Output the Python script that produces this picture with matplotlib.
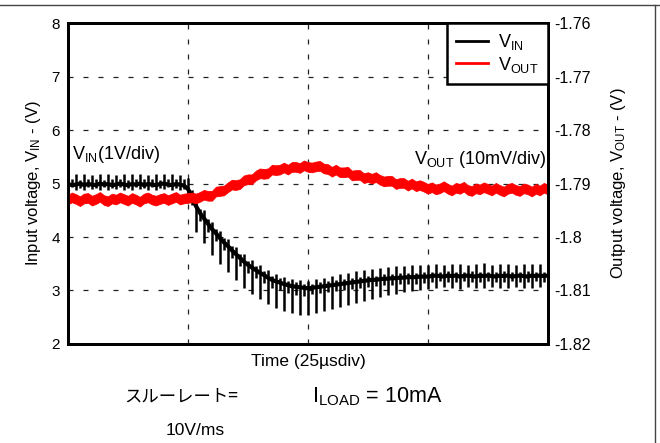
import numpy as np
import matplotlib.pyplot as plt
from matplotlib.lines import Line2D

plt.rcParams['font.family'] = ['Liberation Sans', 'Noto Sans CJK JP']
plt.rcParams['mathtext.fontset'] = 'custom'
plt.rcParams['mathtext.rm'] = 'Liberation Sans'
plt.rcParams['mathtext.it'] = 'Liberation Sans'
plt.rcParams['mathtext.default'] = 'regular'

# time in divisions (25us/div), sampled every 1/30 div
t = np.linspace(0, 4, 121)

# input voltage trace (V): middle of the band, spike tops, spike bottoms
vin_mid = [4.99, 4.97, 4.98, 5.00, 4.97, 4.99, 4.98, 4.97, 5.00, 4.98,
           4.99, 4.97, 4.98, 5.00, 4.98, 4.97, 4.99, 4.98, 5.00, 4.97,
           4.99, 4.98, 4.97, 4.99, 5.00, 4.98, 4.97, 4.99, 4.98, 4.96,
           4.90, 4.75, 4.58, 4.45, 4.35, 4.25, 4.15, 4.07, 3.98, 3.90,
           3.83, 3.75, 3.68, 3.61, 3.54, 3.48, 3.43, 3.38, 3.33, 3.29,
           3.24, 3.20, 3.17, 3.15, 3.12, 3.10, 3.08, 3.07, 3.06, 3.05,
           3.04, 3.05, 3.06, 3.07, 3.08, 3.09, 3.10, 3.11, 3.12, 3.13,
           3.14, 3.15, 3.16, 3.17, 3.18, 3.19, 3.20, 3.20, 3.21, 3.22,
           3.22, 3.23, 3.23, 3.24, 3.24, 3.25, 3.25, 3.25, 3.26, 3.26,
           3.26, 3.27, 3.28, 3.27, 3.26, 3.28, 3.27, 3.28, 3.26, 3.27,
           3.28, 3.27, 3.26, 3.28, 3.27, 3.28, 3.27, 3.26, 3.28, 3.27,
           3.28, 3.26, 3.27, 3.28, 3.27, 3.26, 3.28, 3.27, 3.28, 3.27,
           3.28]
vin_top = [5.38, 5.08, 5.18, 5.07, 5.17, 5.09, 5.16, 5.08, 5.18, 5.07,
           5.17, 5.08, 5.16, 5.09, 5.18, 5.07, 5.17, 5.08, 5.18, 5.09,
           5.16, 5.08, 5.17, 5.07, 5.18, 5.08, 5.17, 5.09, 5.16, 5.08,
           5.10, 4.88, 4.72, 4.53, 4.50, 4.33, 4.28, 4.15, 4.12, 3.98,
           3.97, 3.83, 3.82, 3.69, 3.68, 3.56, 3.57, 3.46, 3.47, 3.37,
           3.38, 3.28, 3.31, 3.23, 3.26, 3.18, 3.22, 3.15, 3.20, 3.13,
           3.18, 3.13, 3.21, 3.15, 3.24, 3.17, 3.27, 3.19, 3.30, 3.21,
           3.33, 3.23, 3.36, 3.25, 3.38, 3.27, 3.40, 3.28, 3.42, 3.30,
           3.43, 3.31, 3.45, 3.32, 3.46, 3.33, 3.47, 3.33, 3.48, 3.34,
           3.48, 3.35, 3.50, 3.34, 3.48, 3.36, 3.49, 3.35, 3.50, 3.34,
           3.48, 3.36, 3.49, 3.35, 3.51, 3.34, 3.48, 3.35, 3.49, 3.36,
           3.50, 3.34, 3.48, 3.35, 3.49, 3.36, 3.50, 3.34, 3.49, 3.35,
           3.48]
vin_bot = [4.88, 4.93, 4.87, 4.92, 4.88, 4.93, 4.89, 4.92, 4.87, 4.93,
           4.88, 4.92, 4.89, 4.93, 4.87, 4.92, 4.88, 4.93, 4.89, 4.92,
           4.88, 4.93, 4.87, 4.92, 4.89, 4.93, 4.88, 4.92, 4.87, 4.90,
           4.70, 4.60, 4.10, 4.30, 3.88, 4.10, 3.66, 3.92, 3.50, 3.75,
           3.35, 3.60, 3.20, 3.46, 3.05, 3.33, 2.93, 3.23, 2.84, 3.14,
           2.75, 3.05, 2.68, 3.00, 2.62, 2.95, 2.58, 2.92, 2.55, 2.90,
           2.54, 2.93, 2.58, 2.95, 2.62, 2.97, 2.65, 2.99, 2.69, 3.01,
           2.73, 3.03, 2.77, 3.05, 2.81, 3.07, 2.85, 3.08, 2.88, 3.10,
           2.91, 3.11, 2.94, 3.12, 2.97, 3.13, 2.99, 3.13, 3.01, 3.14,
           3.03, 3.16, 3.04, 3.17, 3.06, 3.15, 3.05, 3.16, 3.03, 3.17,
           3.06, 3.15, 3.05, 3.16, 3.04, 3.17, 3.06, 3.15, 3.05, 3.16,
           3.04, 3.17, 3.06, 3.15, 3.05, 3.16, 3.04, 3.17, 3.06, 3.15,
           3.05]

# output voltage trace (V)
vout = [-1.7930, -1.7926, -1.7929, -1.7933, -1.7928, -1.7927, -1.7932, -1.7929, -1.7925, -1.7931,
        -1.7933, -1.7928, -1.7930, -1.7926, -1.7929, -1.7932, -1.7927, -1.7930, -1.7934, -1.7928,
        -1.7926, -1.7930, -1.7932, -1.7929, -1.7927, -1.7931, -1.7928, -1.7925, -1.7930, -1.7928,
        -1.7927, -1.7926, -1.7928, -1.7925, -1.7921, -1.7923, -1.7923, -1.7915, -1.7914, -1.7913,
        -1.7907, -1.7902, -1.7903, -1.7901, -1.7894, -1.7892, -1.7892, -1.7885, -1.7881, -1.7882,
        -1.7881, -1.7874, -1.7875, -1.7874, -1.7870, -1.7874, -1.7869, -1.7869, -1.7871, -1.7866,
        -1.7869, -1.7870, -1.7868, -1.7867, -1.7872, -1.7873, -1.7878, -1.7874, -1.7879, -1.7879,
        -1.7878, -1.7885, -1.7884, -1.7884, -1.7890, -1.7888, -1.7891, -1.7888, -1.7893, -1.7896,
        -1.7895, -1.7895, -1.7901, -1.7899, -1.7899, -1.7904, -1.7900, -1.7905, -1.7903, -1.7906,
        -1.7910, -1.7907, -1.7911, -1.7909, -1.7905, -1.7910, -1.7913, -1.7908, -1.7910, -1.7906,
        -1.7912, -1.7914, -1.7909, -1.7911, -1.7907, -1.7910, -1.7913, -1.7908, -1.7912, -1.7915,
        -1.7910, -1.7908, -1.7912, -1.7914, -1.7909, -1.7911, -1.7915, -1.7910, -1.7913, -1.7908,
        -1.7911]
vout_band = 0.0009  # half thickness of the red trace (V)

right_ticks = [-1.82, -1.81, -1.80, -1.79, -1.78, -1.77, -1.76]
right_labels = ['-1.82', '-1.81', '-1.8', '-1.79', '-1.78', '-1.77', '-1.76']

fig = plt.figure(figsize=(6.6, 4.43), dpi=100)
ax = fig.add_axes([0.103, 0.2235, 0.727, 0.7245])
ax2 = ax.twinx()

ax.plot(t, vin_mid, color='black', lw=3)
ax.vlines(t, vin_bot, vin_top, color='black', lw=1.8)
vo = np.array(vout)
ax2.fill_between(t, vo - vout_band, vo + vout_band, color='red', lw=0.6, edgecolor='red')

ax.set_xlim(0, 4)
ax.set_ylim(2, 8)
ax2.set_ylim(-1.82, -1.76)
ax.set_xticks([1, 2, 3])
ax.set_xticklabels([])
ax.set_yticks(range(2, 9))
ax2.set_yticks(right_ticks)
ax2.set_yticklabels(right_labels)
ax.tick_params(axis='x', length=0)
ax.tick_params(axis='y', length=0, labelsize=11, pad=6)
ax2.tick_params(axis='y', length=0, labelsize=11.5, pad=5)
ax.grid(True, color='#222222', linestyle=(0, (4, 8)), lw=0.9)
for a in (ax, ax2):
    for s in a.spines.values():
        s.set_linewidth(2)

ax.set_xlabel('Time (25\u00b5sdiv)', fontsize=12.5, labelpad=4)
ax.set_ylabel('Input voltage, V$_{IN}$ - (V)', fontsize=12, labelpad=6)
ax2.set_ylabel('Output voltage, V$_{OUT}$ - (V)', fontsize=12, labelpad=13)

ax.text(0.03, 5.55, 'V$_{IN}$(1V/div)', fontsize=13, ha='left', va='center')
ax.text(3.99, 5.45, 'V$_{OUT}$ (10mV/div)', fontsize=13, ha='right', va='center')

handles = [Line2D([], [], color='black', lw=2), Line2D([], [], color='red', lw=2)]
leg = ax2.legend(handles, ['V$_{IN}$', 'V$_{OUT}$'], loc='upper right', fontsize=13,
                 borderaxespad=0, fancybox=False, framealpha=1, edgecolor='black',
                 handlelength=1.8, handletextpad=0.55, labelspacing=0.15, borderpad=0.5)
leg.get_frame().set_linewidth(1.8)

fig.text(0.274, 0.104, 'スルーレート=', fontsize=12.5, family=['Noto Sans CJK JP'], ha='center', va='center')
fig.text(0.295, 0.029, '10V/ms', fontsize=12.5, ha='center', va='center')
fig.text(0.473, 0.104, 'I$_{LOAD}$ = 10mA', fontsize=15.5, ha='left', va='center')

fig.add_artist(Line2D([0, 1], [0.989, 0.989], color='#444444', lw=1))
fig.add_artist(Line2D([0.9925, 0.9925], [0, 0.989], color='#444444', lw=1))

fig.savefig('out.png', dpi=100)
